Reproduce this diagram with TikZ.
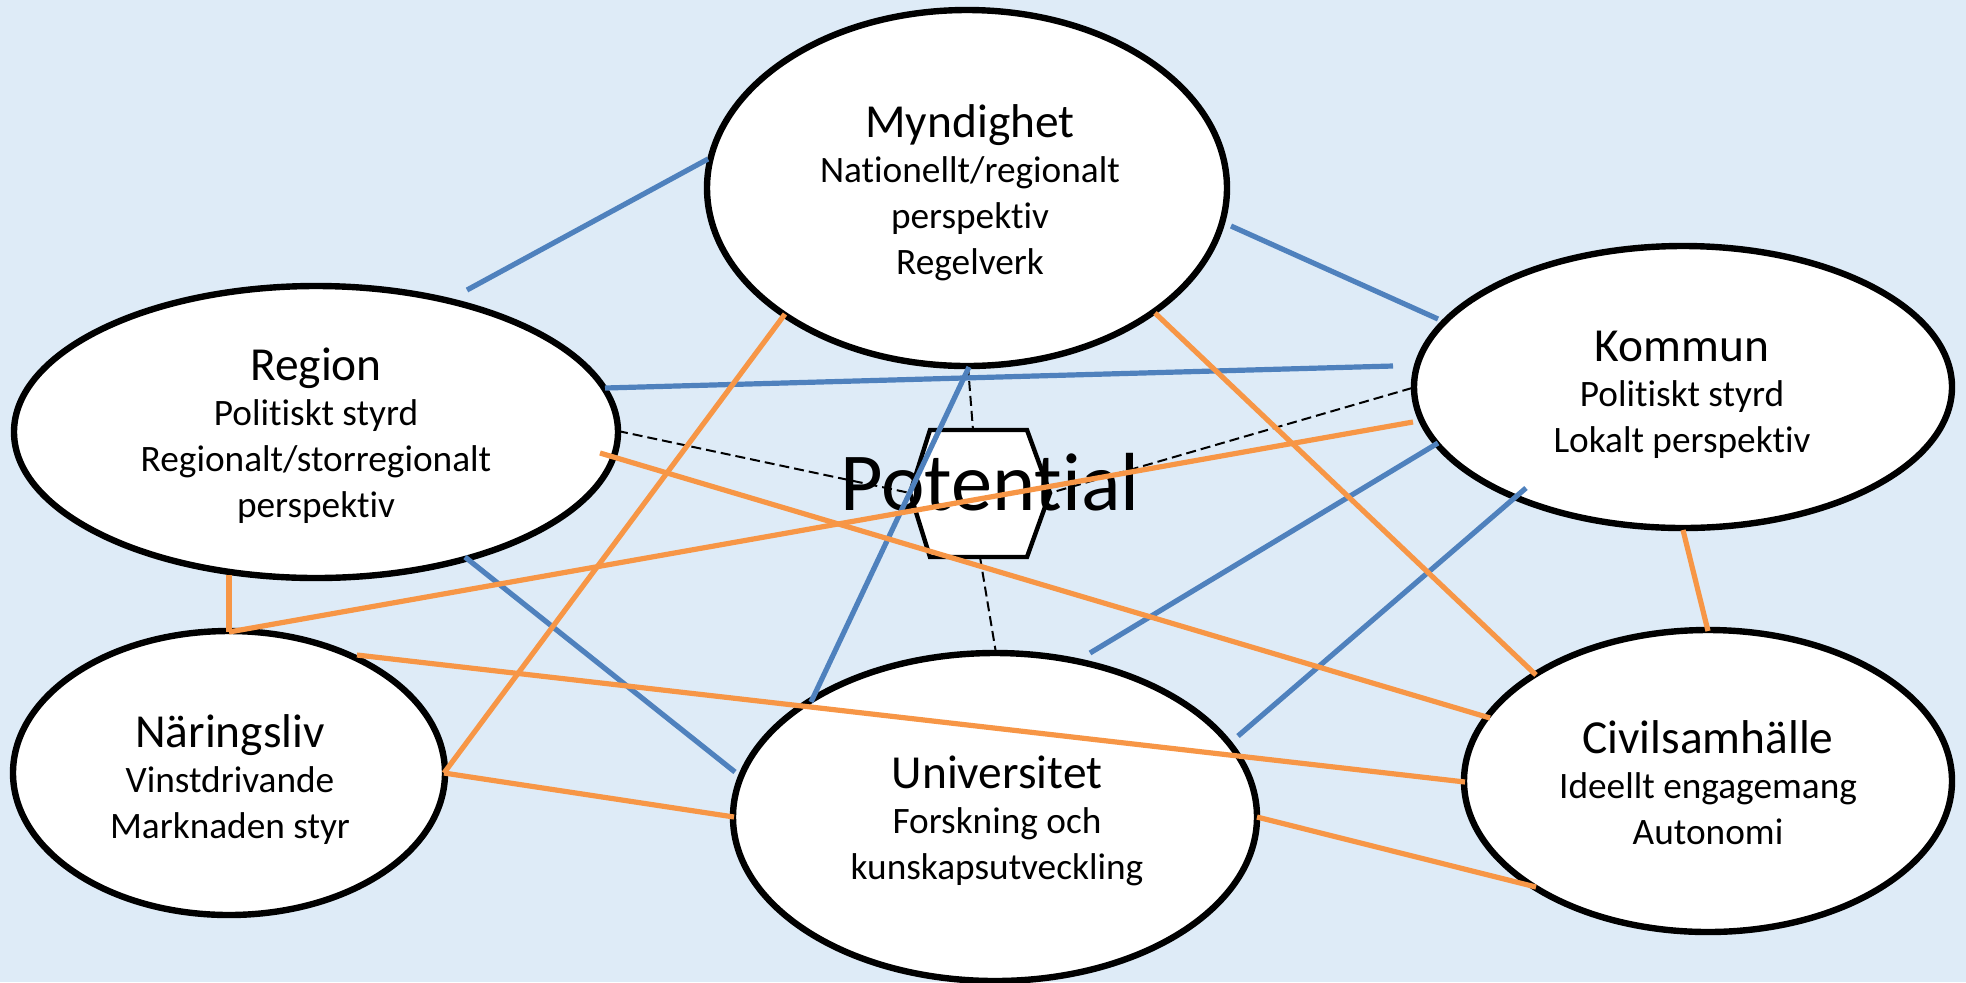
\documentclass[tikz,border=0pt]{standalone}
\usepackage{fontspec}
\setmainfont{Carlito}[RawFeature={-liga;-clig;-calt;-dlig;-hlig}]
\usetikzlibrary{shapes.geometric}
\definecolor{bgc}{RGB}{222,235,247}
\definecolor{lblue}{RGB}{79,129,189}
\definecolor{lorange}{RGB}{247,150,70}
\newcommand\tfontx{\fontsize{23.7pt}{28pt}\selectfont}
\newcommand\sfontx{\fontsize{18.65pt}{22.75pt}\selectfont}
\newcommand\stk[1]{\vtop{\baselineskip=22.9pt\lineskiplimit=-\maxdimen\lineskip=0pt\halign{\hfil##\hfil\cr#1\crcr}}}
\begin{document}
\begin{tikzpicture}[x=0.5pt,y=-0.5pt,
  ell/.style={draw=black,line width=3.2pt,fill=white,ellipse,inner sep=0pt,outer sep=0pt},
  txt/.style={anchor=base,inner sep=0pt,font=\sfontx},
  bll/.style={draw=lblue,line width=2.6pt},
  orl/.style={draw=lorange,line width=2.6pt},
  dsh/.style={draw=black,line width=1pt,dash pattern=on 5pt off 2.5pt},
  hexs/.style={draw=black,line width=2.2pt,fill=white,line join=miter}]
\useasboundingbox (0,0) rectangle (1966,982);
\fill[bgc] (0,0) rectangle (1966,982);

% ellipses
\node[ell,minimum width=260pt,minimum height=178pt] (myn) at (967,188) {};
\node[ell,minimum width=302pt,minimum height=146pt] (reg) at (316,432) {};
\node[ell,minimum width=269pt,minimum height=141pt] (kom) at (1683,387) {};
\node[ell,minimum width=216pt,minimum height=142pt] (nar) at (229,773) {};
\node[ell,minimum width=262pt,minimum height=164pt] (uni) at (995,817) {};
\node[ell,minimum width=244pt,minimum height=151pt] (civ) at (1708,781) {};

% texts
\node[txt] (mynT) at (970,137) {\stk{\tfontx Myndighet\cr Nationellt/regionalt\cr perspektiv\cr Regelverk}};
\node[txt] (regT) at (316,380) {\stk{\tfontx Region\cr Politiskt styrd\cr Regionalt/storregionalt\cr perspektiv}};
\node[txt] (komT) at (1682,361) {\stk{\tfontx Kommun\cr Politiskt styrd\cr Lokalt perspektiv}};
\node[txt] (uniT) at (997,788) {\stk{\tfontx Universitet\cr Forskning och\cr kunskapsutveckling}};
\node[txt] (narT) at (230,747) {\stk{\tfontx Näringsliv\cr Vinstdrivande\cr Marknaden styr}};
\node[txt] (civT) at (1708,753) {\stk{\tfontx Civilsamhälle\cr Ideellt engagemang\cr Autonomi}};

% hexagon
\coordinate (h1) at (930,430);
\coordinate (h2) at (1027,430);
\coordinate (hr) at (1050,493);
\coordinate (h4) at (1027,557);
\coordinate (h5) at (930,557);
\coordinate (hl) at (910,493);
\coordinate (ht) at (973,430);
\coordinate (hb) at (980,557);
\draw[hexs] (h1) -- (h2) -- (hr) -- (h4) -- (h5) -- (hl) -- cycle;

% dashed connectors
\coordinate (d1a) at (618,431);
\coordinate (d2a) at (968,366);
\coordinate (d3a) at (1412,388);
\coordinate (d4a) at (996,653);
\draw[dsh] (d1a) -- (hl);
\draw[dsh] (d2a) -- (ht);
\draw[dsh] (d3a) -- (hr);
\draw[dsh] (hb) -- (d4a);

\node[anchor=base,inner sep=0pt,font=\fontsize{41.2pt}{48pt}\selectfont] (pot) at (990,510) {Potential};

% blue connectors
\coordinate (b1a) at (467,290); \coordinate (b1b) at (708,159);
\coordinate (b2a) at (1231,226); \coordinate (b2b) at (1438,319);
\coordinate (b3a) at (605,388); \coordinate (b3b) at (1393,366);
\coordinate (b4a) at (969,367); \coordinate (b4b) at (811,702);
\coordinate (b5a) at (465,557); \coordinate (b5b) at (735,772);
\coordinate (b6a) at (1438,443); \coordinate (b6b) at (1090,653);
\coordinate (b7a) at (1526,488); \coordinate (b7b) at (1238,736);
\draw[bll] (b1a) -- (b1b);
\draw[bll] (b2a) -- (b2b);
\draw[bll] (b3a) -- (b3b);
\draw[bll] (b4a) -- (b4b);
\draw[bll] (b5a) -- (b5b);
\draw[bll] (b6a) -- (b6b);
\draw[bll] (b7a) -- (b7b);

% orange connectors
\coordinate (o1a) at (785,314); \coordinate (narE) at (444,773);
\coordinate (o2a) at (1155,313); \coordinate (o2b) at (1536,675);
\coordinate (o3a) at (1413,422); \coordinate (narN) at (229,632);
\coordinate (o4a) at (229,575);
\coordinate (o5a) at (600,453); \coordinate (o5b) at (1490,718);
\coordinate (o6a) at (357,655); \coordinate (o6b) at (1465,782);
\coordinate (o7b) at (734,817);
\coordinate (o8a) at (1683,530); \coordinate (o8b) at (1708,631);
\coordinate (o9a) at (1257,817); \coordinate (o9b) at (1536,887);
\draw[orl] (o1a) -- (narE);
\draw[orl] (o2a) -- (o2b);
\draw[orl] (o3a) -- (narN);
\draw[orl] (o4a) -- (narN);
\draw[orl] (o5a) -- (o5b);
\draw[orl] (o6a) -- (o6b);
\draw[orl] (narE) -- (o7b);
\draw[orl] (o8a) -- (o8b);
\draw[orl] (o9a) -- (o9b);
\end{tikzpicture}
\end{document}
